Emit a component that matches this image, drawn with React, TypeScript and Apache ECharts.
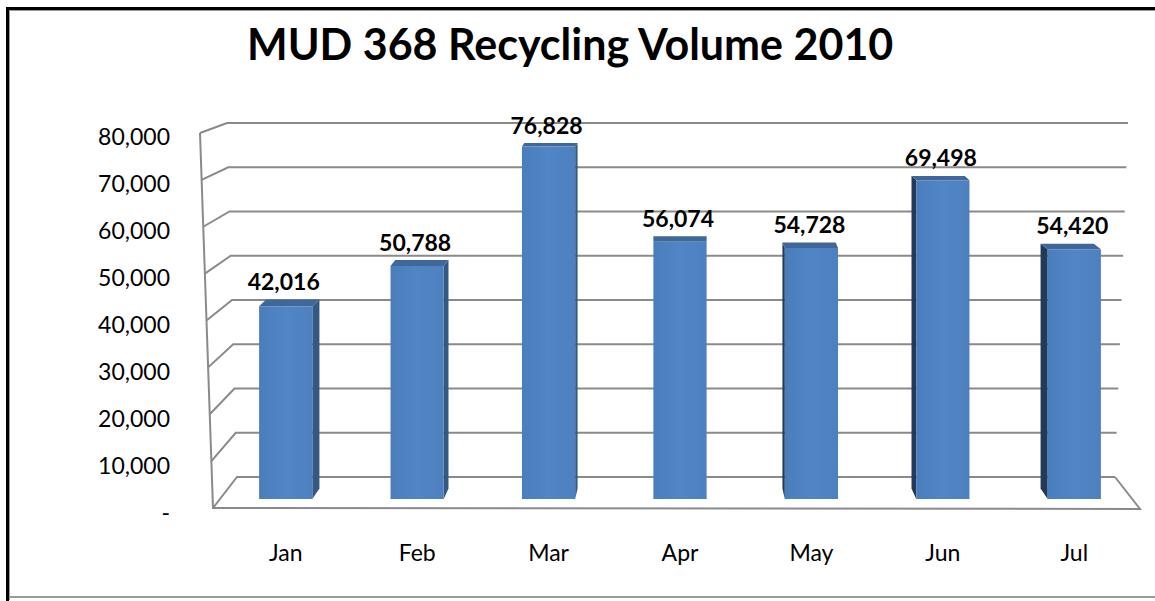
import React, { useEffect, useRef } from "react";
import * as echarts from "echarts";

const TITLE = "MUD 368 Recycling Volume 2010";
const MONTHS = ["Jan", "Feb", "Mar", "Apr", "May", "Jun", "Jul"];
const VOLUMES = [42016, 50788, 76828, 56074, 54728, 69498, 54420];
const Y_TICKS = [0, 10000, 20000, 30000, 40000, 50000, 60000, 70000, 80000];
const Y_MAX = 80000;
const Y_STEP = 10000;

const FONT = "Lato, 'Open Sans', sans-serif";
const GRID_LINE = "#8a8a8a";
const VPX = 680;

function fmt(v: number): string {
  if (v === 0) return "-";
  return v.toLocaleString("en-US");
}

export default function App() {
  const ref = useRef<HTMLDivElement>(null);
  useEffect(() => {
    document.body.style.margin = "0";
    const chart = echarts.init(ref.current!, null, { renderer: "svg" });

    const wallRender = (params: any, api: any) => {
      const v = api.value(0);
      const t = v / Y_MAX;
      const pL = api.coord([0, v]);
      const pR = api.coord([1, v]);
      const backY = pL[1];
      const backLX = pL[0] - t * 10;
      const backRX = pR[0] + t * 13;
      const frontY = 508 - t * 375;
      const frontX = 213 - t * 13;
      const children: any[] = [
        {
          type: "polyline",
          shape: { points: [[frontX, frontY], [backLX, backY], [backRX, backY]] },
          style: { stroke: GRID_LINE, lineWidth: 2, fill: "none" },
        },
      ];
      if (v === 0) {
        children.push({
          type: "polyline",
          shape: { points: [[backRX, backY], [1140, 509], [frontX, frontY], [200, 133]] },
          style: { stroke: GRID_LINE, lineWidth: 2, fill: "none" },
        });
      }
      return { type: "group", children };
    };

    const barRender = (params: any, api: any) => {
      const idx = api.value(0);
      const v = api.value(1);
      const top = api.coord([idx, v]);
      const base = api.coord([idx, 0]);
      const cx = top[0];
      const yTop = top[1];
      const yBase = base[1];
      const w = api.size([1, 0])[0] * 0.405;
      const xl = cx - w / 2;
      const xr = cx + w / 2;
      const dx = (VPX - cx) * 0.018;
      const dyT = -(3 + (yTop - 120) * 0.02);
      const dyB = -(3 + (yBase - 120) * 0.02);
      const children: any[] = [];
      if (dx > 0.5) {
        children.push({
          type: "polygon",
          shape: { points: [[xr, yTop], [xr + dx, yTop + dyT], [xr + dx, yBase + dyB], [xr, yBase]] },
          style: { fill: "#34587f" },
        });
      } else if (dx < -0.5) {
        children.push({
          type: "polygon",
          shape: { points: [[xl, yTop], [xl + dx, yTop + dyT], [xl + dx, yBase + dyB], [xl, yBase]] },
          style: { fill: "#22395a" },
        });
      }
      children.push({
        type: "polygon",
        shape: { points: [[xl, yTop], [xr, yTop], [xr + dx, yTop + dyT], [xl + dx, yTop + dyT]] },
        style: { fill: "#3f6898" },
      });
      children.push({
        type: "rect",
        shape: { x: xl, y: yTop, width: w, height: yBase - yTop },
        style: {
          fill: new echarts.graphic.LinearGradient(0, 0, 1, 0, [
            { offset: 0, color: "#4a7dbb" },
            { offset: 0.5, color: "#5086c6" },
            { offset: 1, color: "#4d80bf" },
          ]),
        },
      });
      children.push({
        type: "text",
        style: {
          text: fmt(v),
          x: cx - 2,
          y: yTop + dyT - 7,
          align: "center",
          verticalAlign: "bottom",
          fill: "#000",
          fontSize: 23,
          fontWeight: "bold",
          fontFamily: FONT,
        },
      });
      return { type: "group", children };
    };

    chart.setOption({
      animation: false,
      backgroundColor: "#ffffff",
      title: {
        text: TITLE,
        left: 242,
        top: 17,
        textStyle: { fontSize: 43, fontWeight: "bold", fontFamily: FONT, color: "#000" },
      },
      graphic: [
        { type: "rect", shape: { x: 6, y: 7, width: 1160, height: 3 }, style: { fill: "#000" } },
        { type: "rect", shape: { x: 6, y: 10, width: 1160, height: 1 }, style: { fill: "#9a9a9a" } },
        { type: "rect", shape: { x: 6, y: 7, width: 3, height: 600 }, style: { fill: "#000" } },
        { type: "rect", shape: { x: 9, y: 10, width: 1, height: 590 }, style: { fill: "#9a9a9a" } },
        { type: "rect", shape: { x: 9, y: 596, width: 1150, height: 2 }, style: { fill: "#9a9a9a" } },
      ],
      grid: [
        { left: 220, right: 15, top: 132, bottom: 102 },
        { left: 237, right: 40, top: 123, bottom: 124 },
        { left: 176, right: 15, top: 136, bottom: 89 },
      ],
      xAxis: [
        {
          type: "category",
          gridIndex: 0,
          data: MONTHS,
          axisLine: { show: false },
          axisTick: { show: false },
          axisLabel: { fontSize: 23, color: "#000", fontFamily: FONT, margin: 41 },
        },
        { type: "value", gridIndex: 1, min: 0, max: 1, show: false },
        { type: "value", gridIndex: 2, min: 0, max: 1, show: false },
      ],
      yAxis: [
        { type: "value", gridIndex: 0, min: 0, max: Y_MAX, interval: Y_STEP, show: false },
        { type: "value", gridIndex: 1, min: 0, max: Y_MAX, interval: Y_STEP, show: false },
        {
          type: "value",
          gridIndex: 2,
          min: 0,
          max: Y_MAX,
          interval: Y_STEP,
          axisLine: { show: false },
          axisTick: { show: false },
          splitLine: { show: false },
          axisLabel: { fontSize: 23, color: "#000", fontFamily: FONT, margin: 6, formatter: (v: number) => fmt(v) },
        },
      ],
      series: [
        {
          type: "custom",
          xAxisIndex: 1,
          yAxisIndex: 1,
          z: 1,
          silent: true,
          data: Y_TICKS.map((v) => [v]),
          encode: { y: 0 },
          renderItem: wallRender,
        },
        {
          type: "custom",
          xAxisIndex: 0,
          yAxisIndex: 0,
          z: 2,
          data: VOLUMES.map((v, i) => [i, v]),
          encode: { x: 0, y: 1 },
          renderItem: barRender,
        },
      ],
    });
    return () => chart.dispose();
  }, []);
  return <div ref={ref} style={{ position: "absolute", left: 0, top: 0, width: 1155, height: 601 }} />;
}
